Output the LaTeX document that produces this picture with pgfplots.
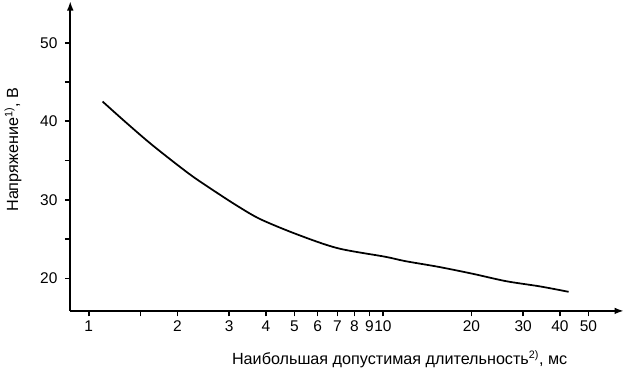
\documentclass[border=0pt]{standalone}
\usepackage{fontspec}
\setmainfont{Liberation Sans}
\usepackage{pgfplots}
\pgfplotsset{compat=1.18}
\usetikzlibrary{arrows.meta}
\begin{document}
\begin{tikzpicture}
\begin{axis}[
  scale only axis,
  width=411pt, height=230pt,
  xmode=log,
  xmin=0.865, xmax=66,
  ymin=15.86, ymax=55.3,
  axis x line=bottom, axis y line=left,
  axis line style={line width=1.6pt, -{Latex[length=7pt,width=5pt]}},
  tick style={line width=1.2pt, black},
  tick align=outside,
  major tick length=4pt,
  minor tick length=4pt,
  xtick={1,2,3,4,5,6,7,8,9,10,20,30,40,50},
  xticklabels={1,2,3,4,5,6,7,8,9,10,20,30,40,50},
  extra x ticks={1.5},
  extra x tick labels={},
  minor xtick={},
  ytick={20,30,40,50},
  minor ytick={25,35,45},
  /pgf/number format/assume math mode=true,
  tick label style={font=\fontsize{11.5}{14}\selectfont},
  label style={font=\fontsize{12}{14}\selectfont},
  yticklabel style={xshift=-2pt},
  xlabel={Наибольшая допустимая длительность\textsuperscript{2)}, мс},
  ylabel={Напряжение\textsuperscript{1)}, В},
  x label style={at={(ticklabel cs:0.595)}, anchor=north, yshift=1pt},
  y label style={at={(ticklabel cs:0.52)}, anchor=south, yshift=7pt},
]
\addplot[black, line width=1.3pt, smooth] coordinates {
(1.114,42.51)
(1.332,39.91)
(1.604,37.30)
(1.929,34.91)
(2.259,32.96)
(2.647,31.22)
(3.185,29.27)
(3.830,27.54)
(5.115,25.59)
(7.021,23.84)
(10.16,22.76)
(11.90,22.20)
(15.49,21.46)
(20.18,20.59)
(26.26,19.64)
(34.19,18.98)
(42.79,18.29)
};
\end{axis}
\end{tikzpicture}
\end{document}
